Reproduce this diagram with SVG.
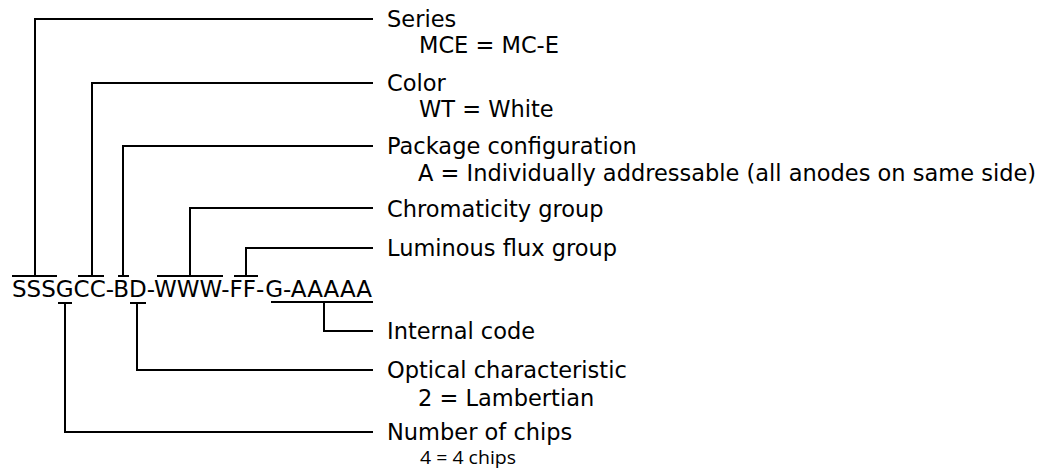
<svg xmlns="http://www.w3.org/2000/svg" width="1049" height="470" viewBox="0 0 1049 470">
<style>
.t{font-family:"DejaVu Sans",Verdana,sans-serif;font-size:22.5px;fill:#000}
.s{font-family:"Open Sans","Noto Sans",sans-serif;font-size:18px;fill:#000}
.c{fill:none;stroke:#000;stroke-width:2}
</style>
<rect width="1049" height="470" fill="#fff"/>
<g id="code"><text class="t" x="12" y="297" style="font-size:23px" textLength="360" lengthAdjust="spacingAndGlyphs">SSSGCC-BD-WWW-FF-G-AAAAA</text></g>
<g id="connectors" class="c">
<path d="M12 276H57M35 276V19H373"/>
<path d="M78 276H104M92 276V83H373"/>
<path d="M118 276H129M123 276V146H373"/>
<path d="M157 276H223M190 276V208H373"/>
<path d="M234 276H258M246 276V248H373"/>
<path d="M271 302H373M324 302V331H373"/>
<path d="M130 303H146M137 303V370H373"/>
<path d="M58 303H72M65 303V432H373"/>
</g>
<g id="series"><text class="t" x="387" y="27">Series</text><text class="t" x="419" y="53">MCE = MC-E</text></g>
<g id="color"><text class="t" x="387" y="91">Color</text><text class="t" x="419" y="117">WT = White</text></g>
<g id="package"><text class="t" x="387" y="154">Package configuration</text><text class="t" x="418" y="181">A = Individually addressable (all anodes on same side)</text></g>
<g id="chromaticity"><text class="t" x="387" y="217">Chromaticity group</text></g>
<g id="luminous"><text class="t" x="387" y="256">Luminous flux group</text></g>
<g id="internal"><text class="t" x="387" y="339">Internal code</text></g>
<g id="optical"><text class="t" x="387" y="378">Optical characteristic</text><text class="t" x="418" y="406">2 = Lambertian</text></g>
<g id="chips"><text class="t" x="387" y="440">Number of chips</text><text class="s" x="420" y="464" textLength="96" lengthAdjust="spacingAndGlyphs">4 = 4 chips</text></g>
</svg>
